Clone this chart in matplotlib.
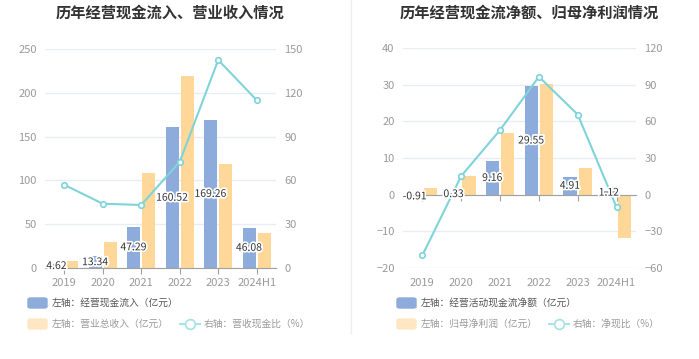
import matplotlib.pyplot as plt
import matplotlib.patheffects as pe
from matplotlib.patches import FancyBboxPatch
from matplotlib.lines import Line2D
import numpy as np

plt.rcParams['font.family'] = ['Noto Sans CJK SC', 'DejaVu Sans']

# 数据
years = ['2019', '2020', '2021', '2022', '2023', '2024H1']
cash_in = [4.62, 13.34, 47.29, 160.52, 169.26, 46.08]       # 经营现金流入
revenue = [8.1, 30.0, 108.8, 219.0, 118.4, 39.6]            # 营业总收入
cash_ratio = [57.0, 44.0, 43.2, 72.8, 142.5, 114.9]         # 营收现金比 %

net_cash = [-0.91, 0.33, 9.16, 29.55, 4.91, 1.12]           # 经营活动现金流净额
net_profit = [1.8, 5.1, 16.9, 30.1, 7.2, -11.7]             # 归母净利润
net_ratio = [-49.6, 15.3, 52.9, 96.5, 65.5, -10.3]          # 净现比 %

BLUE = '#8dacdb'
ORANGE = '#ffd899'
TEAL = '#7fd3d9'
GRID = '#e8ecf5'
TICK = '#9a9a9a'

W, H = 699, 359
fig = plt.figure(figsize=(W / 100, H / 100), dpi=100)


def fx(px):
    return px / W


def fy(py):
    return 1 - py / H


def make_chart(rect, title, tcx, blue, orange, ratio, ylim, yticks, y2lim, y2ticks, leg, lx):
    x0, y0, x1, y1 = rect
    ax = fig.add_axes([fx(x0), fy(y1), fx(x1 - x0), (y1 - y0) / H])
    ax2 = ax.twinx()
    x = np.arange(len(years))
    ax.bar(x - 0.2, blue, 0.34, color=BLUE, zorder=2)
    ax.bar(x + 0.2, orange, 0.34, color=ORANGE, zorder=2)
    ax.set_xlim(-0.5, len(years) - 0.5)
    ax.set_ylim(*ylim)
    ax.set_yticks(yticks)
    ax.grid(axis='y', color=GRID, linewidth=1, zorder=0)
    ax.set_axisbelow(True)
    for s in ['top', 'left', 'right']:
        ax.spines[s].set_visible(False)
        ax2.spines[s].set_visible(False)
    ax2.spines['bottom'].set_visible(False)
    ax.spines['bottom'].set_position(('data', 0))
    ax.spines['bottom'].set_color('#a0a0a0')
    ax.set_xticks(x)
    ax.set_xticklabels([])
    ax.tick_params(axis='x', length=4, color='#a0a0a0')
    ax.tick_params(axis='y', length=0, labelcolor=TICK, labelsize=8, pad=6)
    for i, lab in enumerate(years):
        ax.text(i, -0.045, lab, transform=ax.get_xaxis_transform(), ha='center', va='top',
                color=TICK, fontsize=8)

    ax2.plot(x, ratio, color=TEAL, linewidth=1.5, marker='o', markersize=4,
             markerfacecolor='white', markeredgecolor=TEAL, markeredgewidth=1.2, zorder=3)
    ax2.set_ylim(*y2lim)
    ax2.set_yticks(y2ticks)
    ax2.tick_params(axis='y', length=0, labelcolor=TICK, labelsize=8, pad=6)

    for i, v in enumerate(blue):
        ax2.text(i - 0.2, v / 2, f'{v:.2f}', transform=ax.transData, ha='center', va='center',
                 fontsize=7.5, color='#333333', zorder=5,
                 path_effects=[pe.withStroke(linewidth=2.5, foreground='white')])

    fig.text(fx(tcx), fy(13), title, ha='center', va='center', fontsize=11,
             fontweight='bold', color='#333333')

    # 图例
    (r1, t1), (r2, t2), t3 = leg
    fig.patches.append(FancyBboxPatch((fx(lx), fy(308)), fx(19), 10 / H,
                                      boxstyle='round,pad=0,rounding_size=0.004',
                                      transform=fig.transFigure, color=BLUE))
    fig.text(fx(lx + 24), fy(302.5), t1, ha='left', va='center', fontsize=7, color='#555555')
    fig.patches.append(FancyBboxPatch((fx(lx), fy(329)), fx(19), 10 / H,
                                      boxstyle='round,pad=0,rounding_size=0.004',
                                      transform=fig.transFigure, color='#ffe7c4'))
    fig.text(fx(lx + 24), fy(323.5), t2, ha='left', va='center', fontsize=7, color='#999999')
    mx = r2
    fig.lines.append(Line2D([fx(mx), fx(mx + 20)], [fy(323.5), fy(323.5)], transform=fig.transFigure,
                            color='#a9e3e6', linewidth=1.5))
    fig.lines.append(Line2D([fx(mx + 10)], [fy(323.5)], transform=fig.transFigure, marker='o',
                            markersize=7, markerfacecolor='white', markeredgecolor='#a9e3e6',
                            markeredgewidth=1.3, linestyle='none'))
    fig.text(fx(mx + 24), fy(323.5), t3, ha='left', va='center', fontsize=7, color='#999999')
    return ax, ax2


make_chart((45, 49, 276, 268), '历年经营现金流入、营业收入情况', 170,
           cash_in, revenue, cash_ratio, (0, 250), range(0, 251, 50), (0, 150), range(0, 151, 30),
           ((None, '左轴：经营现金流入（亿元）'), (180, '左轴：营业总收入（亿元）'), '右轴：营收现金比（%）'), 28)

make_chart((403, 48, 636, 268), '历年经营现金流净额、归母净利润情况', 529,
           net_cash, net_profit, net_ratio, (-20, 40), range(-20, 41, 10), (-60, 120), range(-60, 121, 30),
           ((None, '左轴：经营活动现金流净额（亿元）'), (549, '左轴：归母净利润（亿元）'), '右轴：净现比（%）'), 397)

# 分隔线
fig.lines.append(Line2D([fx(351), fx(351)], [fy(0), fy(333)], transform=fig.transFigure,
                        color='#eeeeee', linewidth=1))

fig.savefig('out.png', dpi=100)
